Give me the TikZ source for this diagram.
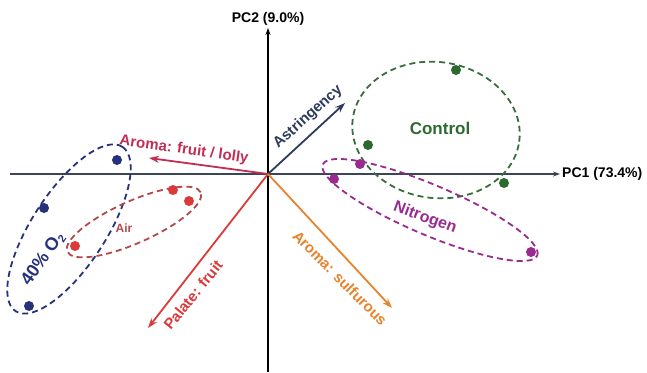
\documentclass[tikz,border=0pt]{standalone}
\usepackage{fontspec}
\setmainfont{Liberation Sans}
\usetikzlibrary{arrows.meta,positioning,shapes.geometric}
\definecolor{axgray}{HTML}{3A4656}
\definecolor{navy}{HTML}{27327C}
\definecolor{crim}{HTML}{C22C55}
\definecolor{redp}{HTML}{D93A3A}
\definecolor{airred}{HTML}{B24A4A}
\definecolor{orng}{HTML}{E8832C}
\definecolor{grn}{HTML}{2C6A30}
\definecolor{purp}{HTML}{992A8E}
\definecolor{slate}{HTML}{2E3B5C}
\tikzstyle{ax} = [draw=black, line width=1.1pt, -{Stealth[length=7pt,width=5pt]}]
\tikzstyle{vec} = [line width=1.8pt, -{Stealth[length=10pt,width=7pt]}]
\tikzstyle{smp} = [circle, inner sep=0pt, minimum size=10pt]
\tikzstyle{grp} = [ellipse, draw, dash pattern=on 6pt off 4pt, line width=1.8pt, inner sep=0pt]
\tikzstyle{lbl} = [font=\bfseries\fontsize{15}{15}\selectfont, inner sep=1pt]
\tikzstyle{axl} = [font=\bfseries\fontsize{14}{14}\selectfont, inner sep=1pt]

\begin{document}
\begin{tikzpicture}[x=1pt, y=-1pt]
	\useasboundingbox (0,0) rectangle (647,372);
	% axes
	\coordinate (o) at (268,174);
	\coordinate (xl) at (10,174);
	\coordinate (xr) at (560,174);
	\coordinate (yb) at (268,372);
	\coordinate (yt) at (268,28);
	\draw[ax, draw=axgray] (xl) -- (xr);
	\draw[ax] (yb) -- (yt);
	\node[axl, anchor=west] (pc1) at (561,174) {PC1 (73.4\%)};
	\node[axl] (pc2) at (268,19) {PC2 (9.0\%)};

	% groups
	\node[grp, draw=navy, minimum width=196pt, minimum height=74pt, rotate=57] (oxy) at (69,229) {};
	\node[grp, draw=airred, minimum width=146pt, minimum height=42pt, rotate=24] (air) at (134,222) {};
	\node[grp, draw=grn!85!gray, minimum width=168pt, minimum height=136pt, rotate=-8] (ctl) at (436,130) {};
	\node[grp, draw=purp, minimum width=233pt, minimum height=50pt, rotate=-23] (nit) at (430,210) {};

	% loadings
	\coordinate (fl) at (149,158);
	\coordinate (as) at (345,103);
	\coordinate (pf) at (148,328);
	\coordinate (su) at (392,308);
	\draw[vec, crim] (o) -- (fl);
	\draw[vec, slate] (o) -- (as);
	\draw[vec, redp] (o) -- (pf);
	\draw[vec, orng] (o) -- (su);
	\node[lbl, crim, rotate=-8] (flt) at (184,150) {Aroma: fruit / lolly};
	\node[lbl, slate, rotate=42] (ast) at (308,117) {Astringency};
	\node[lbl, redp, rotate=51] (pft) at (193,295) {Palate: fruit};
	\node[lbl, orng, rotate=-45] (sut) at (340,278) {Aroma: sulfurous};

	% samples
	\node[smp, fill=navy] (o1) at (117,160) {};
	\node[smp, fill=navy] (o2) at (44,208) {};
	\node[smp, fill=navy] (o3) at (29,306) {};
	\node[smp, fill=redp] (a1) at (173,190) {};
	\node[smp, fill=redp] (a2) at (189,201) {};
	\node[smp, fill=redp] (a3) at (75,246) {};
	\node[smp, fill=grn] (c1) at (456,70) {};
	\node[smp, fill=grn] (c2) at (368,145) {};
	\node[smp, fill=grn] (c3) at (504,183) {};
	\node[smp, fill=purp] (n1) at (360,164) {};
	\node[smp, fill=purp] (n2) at (334,179) {};
	\node[smp, fill=purp] (n3) at (531,252) {};

	% group names
	\node[font=\bfseries\fontsize{18}{18}\selectfont, navy, rotate=55] (oxyt) at (43,259) {40\% O\raisebox{-3pt}{\fontsize{11}{11}\selectfont 2}};
	\node[font=\bfseries\fontsize{12}{12}\selectfont, airred] (airt) at (124,228) {Air};
	\node[font=\bfseries\fontsize{17}{17}\selectfont, grn] (ctlt) at (440,128) {Control};
	\node[font=\bfseries\fontsize{16}{16}\selectfont, purp, rotate=-20] (nitt) at (425,218) {Nitrogen};
\end{tikzpicture}
\end{document}
